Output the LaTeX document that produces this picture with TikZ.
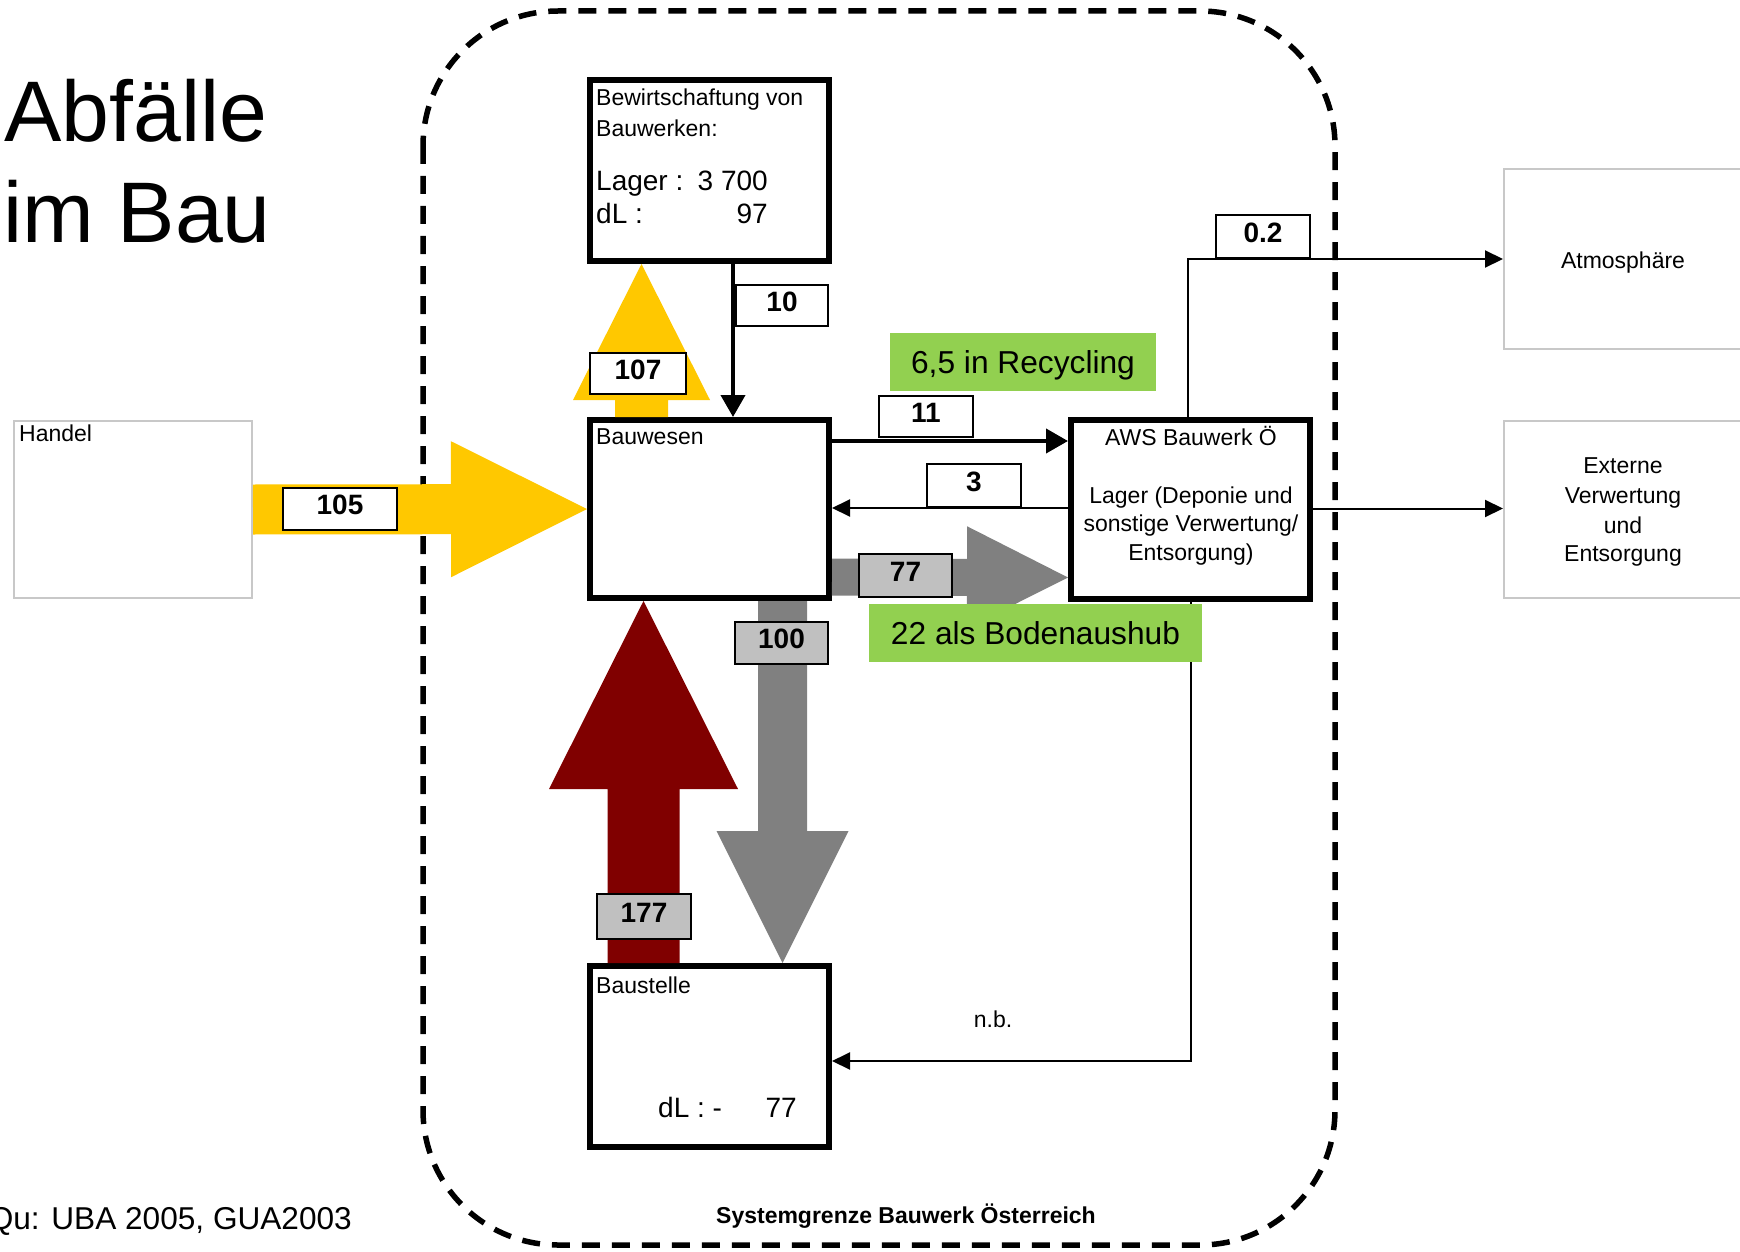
\documentclass[tikz,border=0pt]{standalone}
\usepackage{fontspec}
\setmainfont{Liberation Sans}
\usetikzlibrary{arrows.meta,calc}
\definecolor{ayellow}{RGB}{255,200,0}
\definecolor{ared}{RGB}{128,0,0}
\definecolor{agrey}{RGB}{128,128,128}
\definecolor{lgrey}{RGB}{192,192,192}
\definecolor{agreen}{RGB}{146,208,80}
\definecolor{bgrey}{RGB}{200,200,200}
\newcommand\fatarrow[6]{%
  \fill[#1] let \p1=#2, \p2=#3, \p3=($#3!#6!#2$) in
    ($(\p1)!#4!90:(\p2)$) -- ($(\p3)!#4!90:(\p2)$) -- ($(\p3)!#5!90:(\p2)$) -- (\p2)
    -- ($(\p3)!#5!-90:(\p2)$) -- ($(\p3)!#4!-90:(\p2)$) -- ($(\p1)!#4!-90:(\p2)$) -- cycle;}
\begin{document}
\begin{tikzpicture}[x=1pt,y=-1pt,
  box/.style={draw, line width=6pt, fill=white, inner sep=0pt, outer sep=3pt},
  gbox/.style={draw=bgrey, line width=2pt, fill=white, inner sep=0pt, outer sep=1pt},
  lbl/.style={draw, line width=1.6pt, fill=white, inner sep=0pt, outer sep=0.8pt, text depth=8pt, font=\fontsize{28}{30}\selectfont\bfseries},
  glbl/.style={lbl, fill=lgrey},
  grn/.style={fill=agreen, inner sep=0pt, text depth=0pt, font=\fontsize{31.7}{34}\selectfont},
  small/.style={inner sep=0pt, font=\fontsize{23}{26}\selectfont},
  mid23/.style={small, anchor=mid west},
  big/.style={inner sep=0pt, font=\fontsize{28}{30}\selectfont},
  bigarr/.style={line width=4pt, -{Triangle[length=22pt,width=24pt]}},
  smarr/.style={line width=2pt, -{Triangle[length=18pt,width=17pt]}},
  bound/.style={line width=5.5pt, dash pattern=on 18pt off 12pt, rounded corners=135pt}
]
\clip (0,0) rectangle (1740,1252);
\fill[white] (0,0) rectangle (1740,1252);

% system boundary
\draw[bound] (423,11) rectangle (1335,1245);

% boxes
\node[box, minimum width=239pt, minimum height=181pt] (bew) at (709.5,170.5) {};
\node[box, minimum width=239pt, minimum height=178pt] (bau) at (709.5,509) {};
\node[box, minimum width=239pt, minimum height=179pt] (aws) at (1190.5,509.5) {};
\node[box, minimum width=239pt, minimum height=181pt] (bst) at (709.5,1056.5) {};
\node[gbox, minimum width=238pt, minimum height=177pt] (han) at (133,509.5) {};
\node[gbox, minimum width=250pt, minimum height=180pt] (atm) at (1629,259) {};
\node[gbox, minimum width=250pt, minimum height=177pt] (ext) at (1629,509) {};

% coordinates for fat arrows
\coordinate (y7a) at ([xshift=-68pt]bau.north);
\coordinate (y7b) at ([xshift=-68pt]bew.south);
\coordinate (r1a) at ([xshift=-66pt]bst.north);
\coordinate (r1b) at ([xshift=-66pt]bau.south);
\coordinate (g1a) at ([xshift=73pt]bau.south);
\coordinate (g1b) at ([xshift=73pt]bst.north);
\coordinate (g7a) at ([yshift=-68pt]bau.east);
\coordinate (g7b) at ([yshift=-68pt]aws.west);

\fatarrow{ayellow}{(han.east)}{(bau.west)}{25pt}{68pt}{136pt}
\fatarrow{ayellow}{(y7a)}{(y7b)}{26.5pt}{68.5pt}{136pt}
\fatarrow{ared}{(r1a)}{(r1b)}{36pt}{94.5pt}{188pt}
\fatarrow{agrey}{(g1a)}{(g1b)}{24.5pt}{66pt}{132pt}
\fatarrow{agrey}{(g7a)}{(g7b)}{18.5pt}{51pt}{101pt}

% thin connectors
\coordinate (c10a) at ([xshift=23.5pt]bew.south);
\coordinate (c10b) at ([xshift=23.5pt]bau.north);
\draw[bigarr] (c10a) -- (c10b);
\coordinate (c11) at ([yshift=68pt]bau.east);
\draw[bigarr] (c11) -- (c11 -| aws.west);
\coordinate (c3) at ([yshift=1.5pt]aws.west);
\draw[smarr] (c3) -- (c3 -| bau.east);
\coordinate (c02) at ([xshift=-2.5pt]aws.north);
\draw[smarr] (c02) |- (atm.west);
\coordinate (cex) at ([yshift=1pt]aws.east);
\draw[smarr] (cex) -- (cex -| ext.west);
\coordinate (cnb) at ([yshift=-4.5pt]bst.east);
\draw[smarr] (aws.south) |- (cnb);

% value labels
\node[lbl, minimum width=92.4pt, minimum height=41.4pt] (l10) at (782,305.5) {10};
\node[lbl, minimum width=96.4pt, minimum height=41.4pt] (l107) at (638,373.5) {107};
\node[lbl, minimum width=114.4pt, minimum height=42.4pt] (l105) at (340,509) {105};
\node[lbl, minimum width=94.4pt, minimum height=41.4pt] (l11) at (926,416.5) {11};
\node[lbl, minimum width=94.4pt, minimum height=43.4pt] (l3) at (974,485.5) {3};
\node[lbl, minimum width=94.4pt, minimum height=43.4pt] (l02) at (1263,236.5) {0.2};
\node[glbl, minimum width=93.4pt, minimum height=43.4pt] (l77) at (905.5,575.5) {77};
\node[glbl, minimum width=93.4pt, minimum height=42.4pt] (l100) at (781.5,643) {100};
\node[glbl, minimum width=94.4pt, minimum height=45.4pt] (l177) at (644,916.5) {177};

% green notes
\node[grn, minimum width=266pt, minimum height=58pt] (gr1) at (1023,362) {6,5 in Recycling};
\node[grn, minimum width=333pt, minimum height=58pt] (gr2) at (1035.5,633) {22 als Bodenaushub};

% texts in boxes
\node[mid23] (tb1) at (596,103) {Bewirtschaftung von};
\node[mid23] (tb2) at (596,134) {Bauwerken:};
\node[big, anchor=mid west] (tb3) at (596,188) {Lager :};
\node[big, anchor=mid east] (tb4) at (768,188) {3 700};
\node[big, anchor=mid west] (tb5) at (596,221) {dL :};
\node[big, anchor=mid east] (tb6) at (768,221) {97};
\node[mid23] (tbau) at (596,442) {Bauwesen};
\node[mid23] (tbst) at (596,991) {Baustelle};
\node[big, anchor=mid west] (tdl) at (658,1115) {dL : -};
\node[big, anchor=mid east] (tdl2) at (797,1115) {77};
\node[mid23] (than) at (19,439) {Handel};
\node[small, anchor=mid] (ta1) at (1191,443) {AWS Bauwerk Ö};
\node[small, anchor=mid] (ta2) at (1191,501) {Lager (Deponie und};
\node[small, anchor=mid] (ta3) at (1191,529) {sonstige Verwertung/};
\node[small, anchor=mid] (ta4) at (1191,558) {Entsorgung)};
\node[small, anchor=mid] (tatm) at (1623,266) {Atmosphäre};
\node[small, anchor=mid] (te1) at (1623,471) {Externe};
\node[small, anchor=mid] (te2) at (1623,501) {Verwertung};
\node[small, anchor=mid] (te3) at (1623,531) {und};
\node[small, anchor=mid] (te4) at (1623,559) {Entsorgung};
\node[small, anchor=mid] (tnb) at (993,1025) {n.b.};
\node[small, anchor=mid, font=\fontsize{23}{26}\selectfont\bfseries] (tsys) at (906,1221) {Systemgrenze Bauwerk Österreich};

% title and source
\node[inner sep=0pt, anchor=base west, font=\fontsize{86}{90}\selectfont] (title1) at (4,142) {Abfälle};
\node[inner sep=0pt, anchor=base west, font=\fontsize{86}{90}\selectfont] (title2) at (3,242) {im Bau};
\node[inner sep=0pt, anchor=base east, font=\fontsize{31.6}{34}\selectfont] (src) at (352,1229) {Qu: UBA 2005, GUA2003};
\end{tikzpicture}
\end{document}
